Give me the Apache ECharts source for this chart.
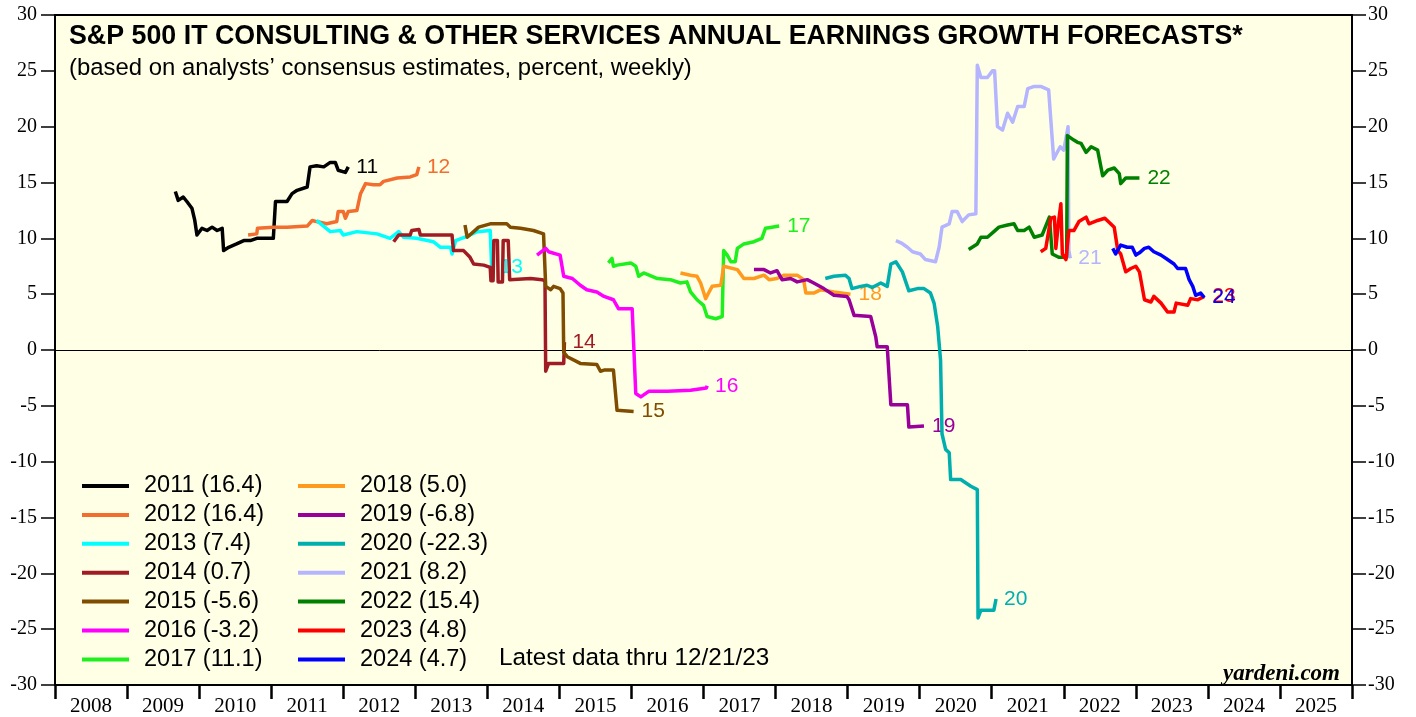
<!DOCTYPE html>
<html><head><meta charset="utf-8">
<script src="https://cdn.jsdelivr.net/npm/echarts@6/dist/echarts.min.js"></script>
<style>html,body{margin:0;padding:0;background:#fff}#c{width:1416px;height:717px}</style>
</head><body><div id="c"></div>
<script>
// ---- data (x = decimal year, y = percent) ----
const years = ['2008','2009','2010','2011','2012','2013','2014','2015','2016','2017','2018','2019','2020','2021','2022','2023','2024','2025'];
const yTicks = [-30,-25,-20,-15,-10,-5,0,5,10,15,20,25,30];
const seriesNames = ['2011 (16.4)','2012 (16.4)','2013 (7.4)','2014 (0.7)','2015 (-5.6)','2016 (-3.2)','2017 (11.1)','2018 (5.0)','2019 (-6.8)','2020 (-22.3)','2021 (8.2)','2022 (15.4)','2023 (4.8)','2024 (4.7)'];
const endTags = ['11','12','13','14','15','16','17','18','19','20','21','22','23','24'];
const colors = ['#000000','#F26D2E','#00FFFF','#A01C24','#7F4C00','#FF00FF','#1EF01E','#FF9A1E','#990099','#00AEAE','#B4B4FF','#008000','#FF0000','#0000FF'];

const s2011 = [[2009.67,14.2],[2009.71,13.4],[2009.78,13.7],[2009.83,13.3],[2009.90,12.7],[2009.94,11.6],[2009.97,10.3],[2010.04,10.9],[2010.11,10.7],[2010.18,11.0],[2010.25,10.7],[2010.32,10.9],[2010.34,8.9],[2010.41,9.2],[2010.52,9.5],[2010.62,9.8],[2010.71,9.8],[2010.80,10.0],[2011.03,10.0],[2011.06,13.3],[2011.22,13.3],[2011.29,14.0],[2011.36,14.3],[2011.50,14.6],[2011.54,16.4],[2011.63,16.5],[2011.73,16.4],[2011.82,16.8],[2011.89,16.8],[2011.93,16.1],[2012.03,15.9],[2012.07,16.4]];
const s2012 = [[2010.68,10.3],[2010.80,10.4],[2010.81,10.9],[2011.03,11.0],[2011.22,11.0],[2011.50,11.1],[2011.57,11.6],[2011.63,11.5],[2011.77,11.3],[2011.91,11.5],[2011.93,12.4],[2012.00,12.4],[2012.03,11.8],[2012.07,12.4],[2012.19,12.5],[2012.24,14.0],[2012.31,14.9],[2012.42,14.8],[2012.51,14.8],[2012.56,15.1],[2012.75,15.4],[2012.93,15.5],[2013.02,15.7],[2013.05,16.4]];
const s2013 = [[2011.63,11.6],[2011.82,10.6],[2011.96,10.7],[2012.00,10.3],[2012.19,10.6],[2012.47,10.4],[2012.65,10.0],[2012.77,10.6],[2012.84,10.1],[2013.02,10.0],[2013.25,9.7],[2013.35,9.2],[2013.49,9.2],[2013.51,8.6],[2013.56,9.8],[2013.69,10.1],[2013.86,10.6],[2014.04,10.7],[2014.06,7.4]];
const s2014 = [[2012.70,9.7],[2012.77,10.3],[2012.93,10.3],[2012.95,10.7],[2013.05,10.8],[2013.07,10.3],[2013.51,10.3],[2013.53,8.9],[2013.67,8.9],[2013.76,8.3],[2013.81,7.7],[2013.95,7.6],[2014.04,7.4],[2014.05,6.2],[2014.08,6.2],[2014.09,9.8],[2014.14,9.8],[2014.15,6.1],[2014.21,6.1],[2014.22,9.8],[2014.29,9.8],[2014.31,6.3],[2014.60,6.4],[2014.76,6.3],[2014.80,6.2],[2014.81,-1.9],[2014.85,-1.2],[2015.06,-1.2],[2015.07,0.7]];
const s2015 = [[2013.69,11.2],[2013.72,10.1],[2013.81,10.6],[2013.88,11.0],[2014.04,11.3],[2014.27,11.3],[2014.32,11.0],[2014.46,10.9],[2014.64,10.7],[2014.78,10.4],[2014.81,5.7],[2014.88,5.4],[2014.92,5.7],[2015.01,5.5],[2015.05,5.1],[2015.06,-0.2],[2015.11,-0.6],[2015.29,-1.2],[2015.52,-1.3],[2015.57,-1.9],[2015.62,-1.8],[2015.75,-1.8],[2015.80,-5.4],[2016.03,-5.5]];
const s2016 = [[2014.69,8.5],[2014.81,9.1],[2014.85,8.8],[2015.01,8.5],[2015.06,6.6],[2015.18,6.4],[2015.29,5.8],[2015.38,5.4],[2015.52,5.2],[2015.62,4.8],[2015.75,4.5],[2015.82,3.7],[2016.01,3.7],[2016.06,-3.9],[2016.13,-4.2],[2016.24,-3.7],[2016.50,-3.7],[2016.82,-3.6],[2017.04,-3.4],[2017.05,-3.2]];
const s2017 = [[2015.68,7.8],[2015.73,8.2],[2015.75,7.5],[2015.80,7.6],[2015.99,7.8],[2016.06,7.5],[2016.10,6.6],[2016.17,6.9],[2016.36,6.4],[2016.54,6.3],[2016.68,6.0],[2016.77,6.1],[2016.82,5.2],[2016.91,4.5],[2017.00,4.0],[2017.05,3.0],[2017.17,2.8],[2017.26,3.0],[2017.28,8.9],[2017.33,8.5],[2017.38,7.9],[2017.44,7.9],[2017.47,9.1],[2017.56,9.5],[2017.70,9.7],[2017.81,10.0],[2017.86,10.9],[2017.95,11.0],[2018.05,11.1]];
const s2018 = [[2016.68,6.9],[2016.82,6.7],[2016.91,6.6],[2016.96,6.0],[2017.03,4.6],[2017.07,5.1],[2017.12,5.7],[2017.24,5.8],[2017.28,7.5],[2017.47,7.2],[2017.56,6.4],[2017.70,6.4],[2017.84,6.7],[2017.91,6.3],[2018.02,6.4],[2018.12,6.7],[2018.30,6.7],[2018.39,6.3],[2018.42,5.1],[2018.53,5.1],[2018.63,5.4],[2018.81,5.2],[2019.04,5.0]];
const s2019 = [[2017.70,7.2],[2017.84,7.2],[2017.93,6.9],[2018.02,7.1],[2018.09,6.3],[2018.21,6.4],[2018.30,6.1],[2018.44,6.3],[2018.53,6.0],[2018.67,5.5],[2018.81,4.9],[2018.99,4.8],[2019.02,4.5],[2019.09,3.1],[2019.13,3.1],[2019.32,3.0],[2019.39,1.2],[2019.41,0.3],[2019.55,0.3],[2019.60,-4.9],[2019.83,-4.9],[2019.85,-6.9],[2020.06,-6.8]];
const s2020 = [[2018.69,6.4],[2018.81,6.6],[2018.97,6.7],[2019.02,6.4],[2019.06,5.5],[2019.18,5.7],[2019.27,5.8],[2019.34,5.6],[2019.46,6.0],[2019.55,5.7],[2019.60,7.7],[2019.67,7.9],[2019.76,7.0],[2019.85,5.3],[2019.97,5.5],[2020.06,5.5],[2020.15,5.1],[2020.20,4.2],[2020.25,2.1],[2020.29,-0.9],[2020.31,-7.5],[2020.36,-8.9],[2020.41,-9.2],[2020.43,-11.6],[2020.57,-11.6],[2020.71,-12.2],[2020.80,-12.5],[2020.81,-24.0],[2020.85,-23.3],[2021.03,-23.3],[2021.06,-22.3]];
const s2021 = [[2019.67,9.8],[2019.74,9.6],[2019.83,9.2],[2019.90,8.8],[2020.01,8.6],[2020.08,8.1],[2020.22,7.9],[2020.27,9.2],[2020.31,11.0],[2020.41,11.3],[2020.45,12.4],[2020.52,12.4],[2020.59,11.5],[2020.68,12.1],[2020.78,12.2],[2020.80,25.5],[2020.85,24.4],[2020.94,24.4],[2021.01,25.0],[2021.04,25.0],[2021.08,20.0],[2021.15,19.7],[2021.22,21.2],[2021.29,20.4],[2021.36,21.8],[2021.45,21.8],[2021.50,23.4],[2021.59,23.6],[2021.68,23.6],[2021.79,23.3],[2021.81,21.5],[2021.86,17.1],[2021.95,18.2],[2022.00,17.9],[2022.06,20.0],[2022.07,8.9],[2022.09,8.2]];
const s2022 = [[2020.68,9.0],[2020.80,9.5],[2020.85,10.1],[2020.94,10.1],[2021.03,10.6],[2021.10,11.0],[2021.22,11.2],[2021.31,11.3],[2021.36,10.7],[2021.45,10.7],[2021.52,11.0],[2021.59,10.1],[2021.70,10.3],[2021.80,11.9],[2021.84,8.6],[2021.93,8.3],[2022.04,8.3],[2022.05,19.2],[2022.14,18.8],[2022.19,18.6],[2022.24,18.5],[2022.31,17.7],[2022.38,18.2],[2022.47,17.9],[2022.54,15.6],[2022.61,16.1],[2022.70,16.3],[2022.77,15.8],[2022.79,14.9],[2022.86,15.4],[2023.05,15.4]];
const s2023 = [[2021.68,8.8],[2021.75,9.1],[2021.82,11.8],[2021.87,11.9],[2021.89,9.1],[2021.93,11.6],[2021.96,13.1],[2021.98,8.6],[2022.03,8.1],[2022.07,10.7],[2022.14,10.7],[2022.21,11.5],[2022.31,11.9],[2022.35,11.3],[2022.47,11.6],[2022.57,11.8],[2022.65,11.3],[2022.70,11.0],[2022.75,8.9],[2022.79,8.6],[2022.86,7.0],[2022.93,7.3],[2023.00,7.5],[2023.05,7.0],[2023.12,4.5],[2023.21,4.3],[2023.25,4.8],[2023.35,4.2],[2023.44,3.4],[2023.53,3.4],[2023.56,4.2],[2023.72,4.0],[2023.76,4.6],[2023.86,4.5],[2023.95,4.8]];
const s2024 = [[2022.68,9.1],[2022.72,8.6],[2022.79,9.4],[2022.88,9.2],[2022.95,9.2],[2023.00,8.5],[2023.05,8.7],[2023.12,9.1],[2023.18,9.2],[2023.25,8.8],[2023.35,8.5],[2023.44,8.1],[2023.53,7.7],[2023.58,7.3],[2023.69,7.3],[2023.74,6.3],[2023.79,5.7],[2023.83,4.9],[2023.90,5.1],[2023.95,4.7]];
const allData = [s2011,s2012,s2013,s2014,s2015,s2016,s2017,s2018,s2019,s2020,s2021,s2022,s2023,s2024];

const SANS = 'Liberation Sans, Arial, sans-serif';
const SERIF = 'Liberation Serif, Times New Roman, serif';

const chart = echarts.init(document.getElementById('c'), null, {renderer:'canvas'});
const series = allData.map((d,i)=>({
  name: seriesNames[i], type:'line', data:d, xAxisIndex:0, yAxisIndex:0,
  showSymbol:false, symbol:'none', color: colors[i],
  lineStyle:{width:3.5, color:colors[i], join:'round'},
  endLabel:{show:true, formatter: endTags[i], color: colors[i], fontFamily:SANS, fontSize:21, distance:8},
  z: 3+i,
  markLine: i===0 ? {silent:true, symbol:'none', label:{show:false}, lineStyle:{color:'#000', width:1, type:'solid'}, data:[{yAxis:0}]} : undefined
}));
const legendCommon = {orient:'vertical', icon:'rect', itemWidth:47, itemHeight:4, itemGap:4.9,
  textStyle:{fontFamily:SANS, fontSize:23.5, color:'#000', lineHeight:22, padding:[0,0,0,10]}, selectedMode:false};

chart.setOption({
  animation:false,
  backgroundColor:'#ffffff',
  title:[
    {text:'S&P 500 IT CONSULTING & OTHER SERVICES ANNUAL EARNINGS GROWTH FORECASTS*',
     subtext:'(based on analysts\u2019 consensus estimates, percent, weekly)',
     left:64, top:18, itemGap:6,
     textStyle:{fontFamily:SANS, fontWeight:'bold', fontSize:26.8, color:'#000'},
     subtextStyle:{fontFamily:SANS, fontSize:23.9, color:'#000'}},
    {text:'Latest data thru 12/21/23', left:494, top:641, textStyle:{fontFamily:SANS, fontWeight:'normal', fontSize:24.3, color:'#000'}},
    {text:'yardeni.com', right:71, top:658, textStyle:{fontFamily:SERIF, fontWeight:'bold', fontStyle:'italic', fontSize:23, color:'#000'}}
  ],
  legend:[
    Object.assign({left:77, top:469, data:seriesNames.slice(0,7)}, legendCommon),
    Object.assign({left:293, top:469, data:seriesNames.slice(7)}, legendCommon)
  ],
  grid:{left:55, right:64, top:15, bottom:31, show:true, backgroundColor:'#FFFFE6', borderColor:'#000', borderWidth:2},
  xAxis:[
    {type:'value', min:2008, max:2026, interval:1, position:'bottom',
     axisLine:{show:true, onZero:false, lineStyle:{color:'#000', width:2}},
     axisTick:{show:true, inside:false, length:14, lineStyle:{color:'#000', width:2.5}},
     axisLabel:{show:false}, splitLine:{show:false}},
    {type:'category', data:years, boundaryGap:true, position:'bottom',
     axisLine:{show:false, onZero:false}, axisTick:{show:false}, splitLine:{show:false},
     axisLabel:{interval:0, fontFamily:SERIF, fontSize:21, color:'#000', margin:11}}
  ],
  yAxis:[
    {type:'value', min:-30, max:30, interval:5, position:'left',
     axisLine:{show:true, onZero:false, lineStyle:{color:'#000', width:2}},
     axisTick:{show:true, length:14, lineStyle:{color:'#000', width:1.5}},
     axisLabel:{fontFamily:SERIF, fontSize:20, color:'#000', margin:18}, splitLine:{show:false}},
    {type:'value', min:-30, max:30, interval:5, position:'right',
     axisLine:{show:true, onZero:false, lineStyle:{color:'#000', width:2}},
     axisTick:{show:true, length:14, lineStyle:{color:'#000', width:1.5}},
     axisLabel:{fontFamily:SERIF, fontSize:20, color:'#000', margin:16}, splitLine:{show:false}}
  ],
  series: series
});
</script>
</body></html>
